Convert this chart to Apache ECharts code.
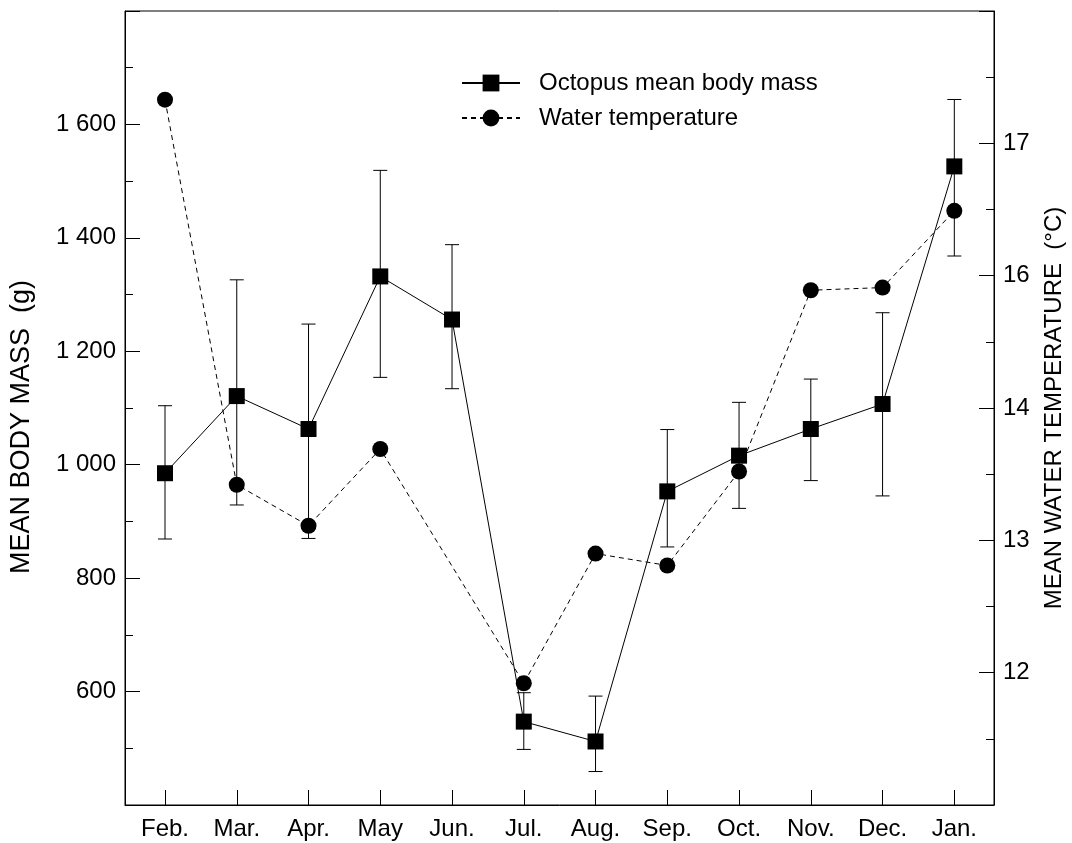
<!DOCTYPE html>
<html>
<head>
<meta charset="utf-8">
<script src="https://cdn.jsdelivr.net/npm/echarts@6/dist/echarts.min.js"></script>
<style>
html,body{margin:0;padding:0;background:#fff;}
#chart{width:1072px;height:843px;}
</style>
</head>
<body>
<div id="chart"></div>
<script>
// ---- data ----
const months = ['Feb.','Mar.','Apr.','May','Jun.','Jul.','Aug.','Sep.','Oct.','Nov.','Dec.','Jan.'];
const massMean = [985, 1121, 1063, 1332, 1256, 547, 512, 953, 1016, 1063, 1107, 1526];
const massLow  = [869,  929,  870, 1154, 1134, 498, 459, 855,  923,  972,  945, 1368];
const massHigh = [1104, 1326, 1248, 1519, 1388, 598, 592, 1062, 1110, 1151, 1268, 1644];
// temperature in the right axis' own units (Jun. has no value)
const waterTemp = [16.33, 13.42, 13.11, 13.69, null, 11.92, 12.90, 12.81, 13.52, 14.89, 14.91, 15.49];
const leftTickLabels = {600:'600', 800:'800', 1000:'1 000', 1200:'1 200', 1400:'1 400', 1600:'1 600'};
const rightTickLabels = {12:'12', 13:'13', 14:'14', 15:'16', 16:'17'};
const seriesNames = ['Octopus mean body mass', 'Water temperature'];

const FONT = "'Liberation Sans', Arial, Helvetica, sans-serif";
const FS = 24;

const massData = months.map((m, i) => [i, massMean[i]]);
const errData = months.map((m, i) => [i, massLow[i], massHigh[i]]);
const tempData = months.map((m, i) => [i, waterTemp[i]]);
const monthIdx = months.map((m, i) => i);

const chart = echarts.init(document.getElementById('chart'), null, {renderer: 'canvas'});
chart.setOption({
  animation: false,
  backgroundColor: '#fff',
  textStyle: {fontFamily: FONT},
  grid: {left: 125, right: 78, top: 11, bottom: 38, containLabel: false, outerBoundsMode: 'none',
    show: true, borderColor: '#000', borderWidth: 1, backgroundColor: 'transparent'},
  legend: {
    orient: 'vertical', left: 456, top: 65,
    itemWidth: 58, itemHeight: 21, itemGap: 9,
    textStyle: {fontFamily: FONT, fontSize: FS, color: '#000', lineHeight: 26, padding: [0, 0, 0, 14]},
    data: seriesNames
  },
  xAxis: {
    type: 'value', min: -0.5575, max: 11.553,
    axisLine: {show: true, onZero: false, lineStyle: {color: '#000', width: 1}},
    axisTick: {show: true, inside: true, length: 15, lineStyle: {color: '#000'}, customValues: monthIdx},
    axisLabel: {show: true, customValues: monthIdx, margin: 12, color: '#000', fontSize: FS, fontFamily: FONT,
      formatter: v => months[Math.round(v)] || ''},
    splitLine: {show: false}
  },
  yAxis: [{
    type: 'value', min: 400, max: 1800, interval: 200, position: 'left',
    name: 'MEAN BODY MASS  (g)', nameLocation: 'middle', nameGap: 90, nameRotate: 90,
    nameTextStyle: {fontSize: 27, color: '#000', fontFamily: FONT, padding: [0, 38, 0, 0]},
    axisLine: {show: true, onZero: false, lineStyle: {color: '#000'}},
    axisTick: {show: true, inside: true, length: 15, lineStyle: {color: '#000'}},
    minorTick: {show: true, splitNumber: 2, length: 8, lineStyle: {color: '#000'}},
    axisLabel: {margin: 9, color: '#000', fontSize: FS, fontFamily: FONT, formatter: v => leftTickLabels[v] || ''},
    splitLine: {show: false}
  }, {
    type: 'value', min: 11, max: 17, interval: 1, position: 'right',
    name: 'MEAN WATER TEMPERATURE  (°C)', nameLocation: 'middle', nameGap: 48, nameRotate: 90,
    nameTextStyle: {fontSize: FS, color: '#000', fontFamily: FONT},
    axisLine: {show: true, onZero: false, lineStyle: {color: '#000'}},
    axisTick: {show: true, inside: true, length: 15, lineStyle: {color: '#000'}},
    minorTick: {show: true, splitNumber: 2, length: 8, lineStyle: {color: '#000'}},
    axisLabel: {margin: 9, color: '#000', fontSize: FS, fontFamily: FONT, formatter: v => rightTickLabels[v] || ''},
    splitLine: {show: false}
  }],
  series: [{
    type: 'custom', name: 'err', yAxisIndex: 0, z: 1, silent: true,
    data: errData,
    renderItem: function (params, api) {
      const x = api.value(0);
      const lo = api.coord([x, api.value(1)]);
      const hi = api.coord([x, api.value(2)]);
      const hw = 7;
      const st = {stroke: '#000', lineWidth: 1};
      return {type: 'group', children: [
        {type: 'line', shape: {x1: lo[0], y1: lo[1], x2: hi[0], y2: hi[1]}, style: st},
        {type: 'line', shape: {x1: lo[0] - hw, y1: lo[1], x2: lo[0] + hw, y2: lo[1]}, style: st},
        {type: 'line', shape: {x1: hi[0] - hw, y1: hi[1], x2: hi[0] + hw, y2: hi[1]}, style: st}
      ]};
    }
  }, {
    type: 'line', name: seriesNames[0], yAxisIndex: 0, z: 3,
    data: massData,
    symbol: 'rect', symbolSize: 16,
    itemStyle: {color: '#000'},
    lineStyle: {color: '#000', width: 1, type: 'solid'}
  }, {
    type: 'line', name: seriesNames[1], yAxisIndex: 1, z: 4,
    data: tempData, connectNulls: true,
    symbol: 'circle', symbolSize: 16,
    itemStyle: {color: '#000'},
    lineStyle: {color: '#000', width: 1, type: [5, 4]}
  }]
});
</script>
</body>
</html>
